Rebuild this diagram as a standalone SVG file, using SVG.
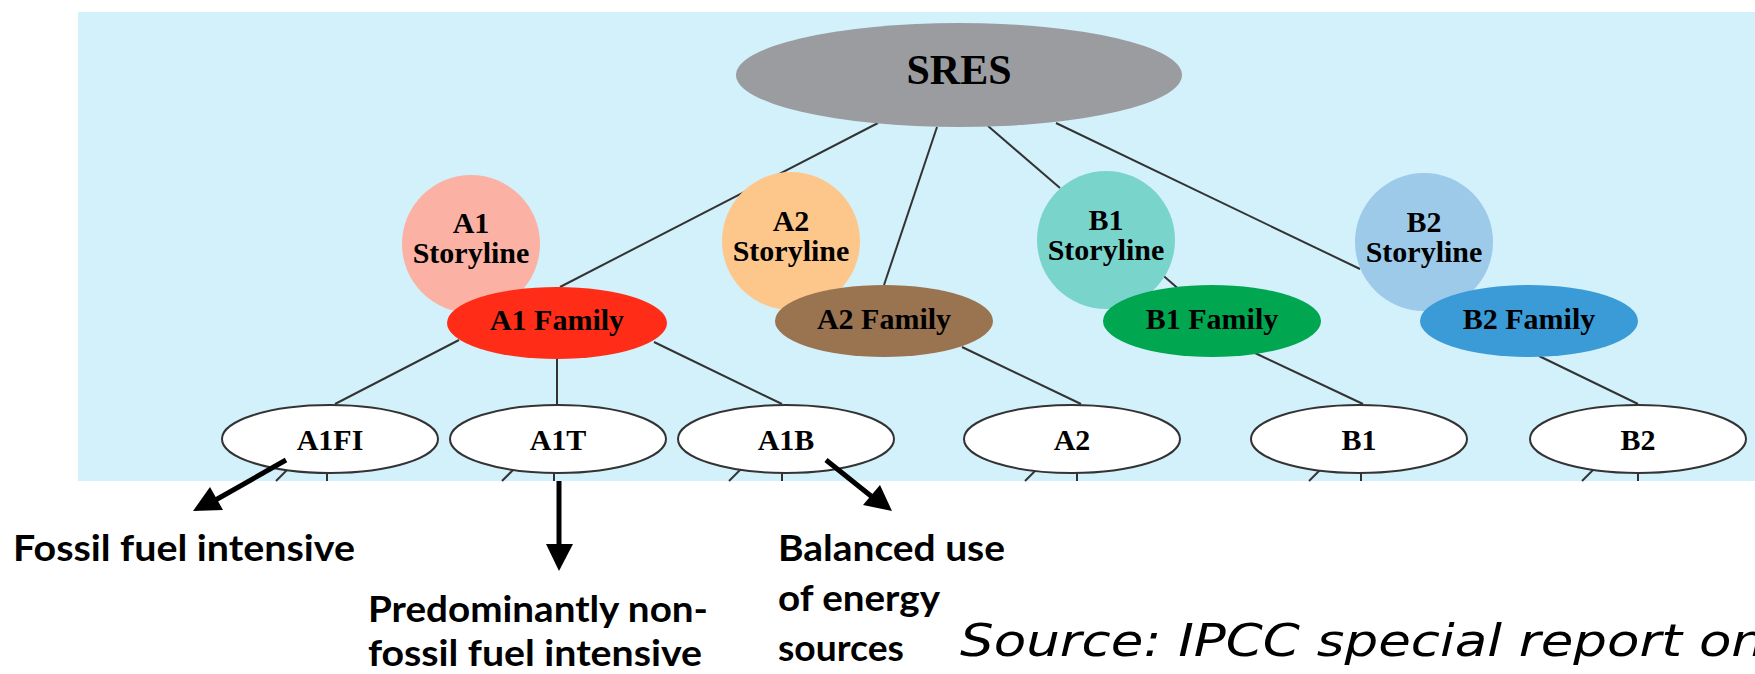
<svg xmlns="http://www.w3.org/2000/svg" width="1755" height="674" viewBox="0 0 1755 674">
<style>
.lbl{font-family:"Liberation Serif","Times New Roman",serif;font-weight:bold;font-size:30px;fill:#000;text-anchor:middle}
.sres{font-size:42px}
.edge line{stroke:#333;stroke-width:2;fill:none}
.leaf{fill:#fff;stroke:#333;stroke-width:2}
.note{font-family:Lato,"Open Sans",sans-serif;font-weight:bold;font-size:36px;fill:#000}
.src{font-family:"DejaVu Sans Condensed","DejaVu Sans",Verdana,sans-serif;font-style:italic;font-size:45px;fill:#000}
.arr{stroke:#000;stroke-width:5;fill:none}
</style>
<rect x="78" y="12" width="1677" height="469" fill="#d3f1fb"/>
<g class="edge" id="connectors">
<line x1="878" y1="123" x2="560" y2="287"/>
<line x1="937" y1="127" x2="884" y2="285"/>
<line x1="988" y1="126" x2="1060" y2="188"/>
<line x1="1056" y1="123" x2="1360" y2="269"/>
<line x1="1150" y1="264" x2="1190" y2="299"/>
<line x1="459" y1="340" x2="335" y2="404"/>
<line x1="557" y1="359" x2="557" y2="404"/>
<line x1="654" y1="342" x2="782" y2="404"/>
<line x1="962" y1="347" x2="1081" y2="404"/>
<line x1="1255" y1="353" x2="1363" y2="404"/>
<line x1="1539" y1="356" x2="1638" y2="404"/>
<line x1="295" y1="462" x2="276" y2="481"/>
<line x1="327" y1="465" x2="327" y2="481"/>
<line x1="521" y1="462" x2="502" y2="481"/>
<line x1="554" y1="465" x2="554" y2="481"/>
<line x1="748" y1="462" x2="729" y2="481"/>
<line x1="782" y1="465" x2="782" y2="481"/>
<line x1="1044" y1="462" x2="1025" y2="481"/>
<line x1="1077" y1="465" x2="1077" y2="481"/>
<line x1="1328" y1="462" x2="1309" y2="481"/>
<line x1="1361" y1="465" x2="1361" y2="481"/>
<line x1="1601" y1="462" x2="1582" y2="481"/>
<line x1="1638" y1="465" x2="1638" y2="481"/>
</g>
<g id="SRES"><ellipse cx="959" cy="75" rx="223" ry="52" fill="#9b9ca0"/><text class="lbl sres" x="959" y="84">SRES</text></g>
<g id="A1Storyline"><circle cx="471" cy="244" r="69" fill="#fbb2a4"/><text class="lbl" x="471" y="233">A1</text><text class="lbl" x="471" y="263">Storyline</text></g>
<g id="A2Storyline"><circle cx="791" cy="241" r="69" fill="#fdc78c"/><text class="lbl" x="791" y="231">A2</text><text class="lbl" x="791" y="261">Storyline</text></g>
<g id="B1Storyline"><circle cx="1106" cy="240" r="69" fill="#79d5cc"/><text class="lbl" x="1106" y="230">B1</text><text class="lbl" x="1106" y="260">Storyline</text></g>
<g id="B2Storyline"><circle cx="1424" cy="242" r="69" fill="#9ccae8"/><text class="lbl" x="1424" y="232">B2</text><text class="lbl" x="1424" y="262">Storyline</text></g>
<g id="A1Family"><ellipse cx="557" cy="323" rx="110" ry="36" fill="#ff2d17"/><text class="lbl" x="557" y="330">A1 Family</text></g>
<g id="A2Family"><ellipse cx="884" cy="321" rx="109" ry="36" fill="#9a7350"/><text class="lbl" x="884" y="329">A2 Family</text></g>
<g id="B1Family"><ellipse cx="1212" cy="321" rx="109" ry="36" fill="#00a650"/><text class="lbl" x="1212" y="329">B1 Family</text></g>
<g id="B2Family"><ellipse cx="1529" cy="321" rx="109" ry="36" fill="#3a9bd7"/><text class="lbl" x="1529" y="329">B2 Family</text></g>
<g id="A1FI"><ellipse class="leaf" cx="330" cy="439" rx="108" ry="34"/><text class="lbl" x="330" y="450">A1FI</text></g>
<g id="A1T"><ellipse class="leaf" cx="558" cy="439" rx="108" ry="34"/><text class="lbl" x="558" y="450">A1T</text></g>
<g id="A1B"><ellipse class="leaf" cx="786" cy="439" rx="108" ry="34"/><text class="lbl" x="786" y="450">A1B</text></g>
<g id="A2"><ellipse class="leaf" cx="1072" cy="439" rx="108" ry="34"/><text class="lbl" x="1072" y="450">A2</text></g>
<g id="B1"><ellipse class="leaf" cx="1359" cy="439" rx="108" ry="34"/><text class="lbl" x="1359" y="450">B1</text></g>
<g id="B2"><ellipse class="leaf" cx="1638" cy="439" rx="108" ry="34"/><text class="lbl" x="1638" y="450">B2</text></g>
<g id="arrows">
<line class="arr" x1="286" y1="460" x2="212" y2="502"/>
<polygon points="193,511 210,487 223,510" fill="#000"/>
<line class="arr" x1="559" y1="481" x2="559" y2="546"/>
<polygon points="546,544 573,544 559,571" fill="#000"/>
<line class="arr" x1="826" y1="460" x2="876" y2="500"/>
<polygon points="892,511 863,505 880,485" fill="#000"/>
</g>
<g id="notes">
<text class="note" x="13" y="561" textLength="342" lengthAdjust="spacingAndGlyphs">Fossil fuel intensive</text>
<text class="note" x="368" y="622" textLength="340" lengthAdjust="spacingAndGlyphs">Predominantly non-</text>
<text class="note" x="368" y="666" textLength="334" lengthAdjust="spacingAndGlyphs">fossil fuel intensive</text>
<text class="note" x="778" y="561" textLength="227" lengthAdjust="spacingAndGlyphs">Balanced use</text>
<text class="note" x="778" y="611" textLength="162" lengthAdjust="spacingAndGlyphs">of energy</text>
<text class="note" x="778" y="661" textLength="126" lengthAdjust="spacingAndGlyphs">sources</text>
<text class="src" x="960" y="656" textLength="805" lengthAdjust="spacingAndGlyphs">Source: IPCC special report on</text>
<text class="src" x="960" y="710" textLength="660" lengthAdjust="spacingAndGlyphs">emission scenarios (2000)</text>
</g>
</svg>
